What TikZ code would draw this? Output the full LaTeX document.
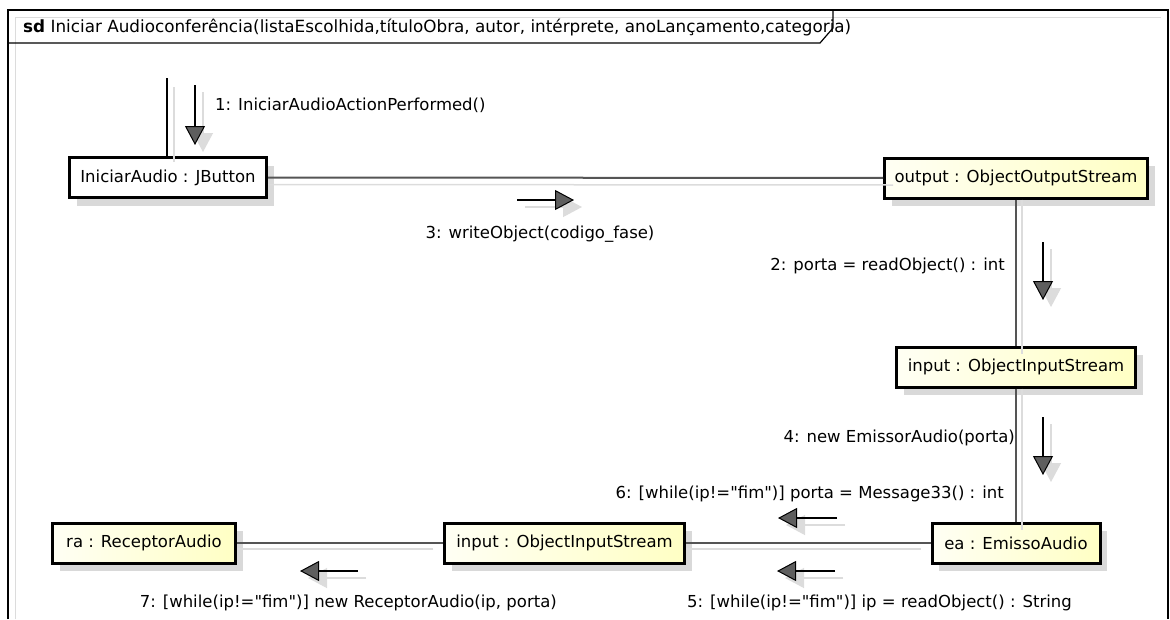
\documentclass[tikz,border=0pt]{standalone}
\usepackage{fontspec}
% plain ASCII quotes must stay straight, so the TeX ligature mapping is off
\setmainfont{DejaVu Sans}[Ligatures=TeXOff]
\usetikzlibrary{arrows.meta,shadows}
\definecolor{linkgray}{HTML}{555555}
\definecolor{shadowgray}{HTML}{DCDCDC}
\definecolor{paleyellow}{HTML}{FFFFC4}
\definecolor{creamwhite}{HTML}{FFFFF4}
\definecolor{headgray}{HTML}{5E5E5E}
\begin{document}
\begin{tikzpicture}[x=1pt,y=-1pt,
  every node/.style={font=\fontsize{16.5}{19}\selectfont},
  objbox/.style={draw=black, line width=3pt, minimum height=40pt, inner sep=0pt,
    drop shadow={shadow xshift=7pt,shadow yshift=-8pt,fill=black!15,opacity=1}},
  yellowobj/.style={objbox, left color=creamwhite, right color=paleyellow},
  whiteobj/.style={objbox, fill=white},
  link/.style={draw=linkgray, line width=2pt},
  linkshadow/.style={draw=shadowgray, line width=1.5pt},
  msg/.style={draw=black, line width=1.2pt,
    -{Triangle[length=19pt,width=20pt,line width=1pt,fill=headgray]}},
  msgshadow/.style={draw=shadowgray, line width=1.2pt,
    -{Triangle[length=19pt,width=20pt,fill=shadowgray]}},
  lbl/.style={inner sep=0pt}
]
\useasboundingbox (0,0) rectangle (1170,619);

% diagram frame with its name tab
\draw[shadowgray, line width=1pt] (15,619) -- (15,17) -- (1161,17);
\draw[black, line width=1.2pt] (8,619) -- (8,10) -- (1168,10) -- (1168,619);
\draw[black, line width=1.2pt] (8,43) -- (820,43) -- (833,28) -- (833,10);
\node[lbl, anchor=west, font=\fontsize{16.8}{19}\selectfont] (title) at (23,28)
  {\textbf{sd} Iniciar Audioconferência(listaEscolhida,títuloObra, autor, intérprete, anoLançamento,categoria)};

% lifeline objects
\node[whiteobj,  minimum width=197pt] (jb)   at (168,177.5) {IniciarAudio : JButton};
\node[yellowobj, minimum width=263pt] (oos)  at (1016,178)  {output : ObjectOutputStream};
\node[yellowobj, minimum width=239pt] (ois)  at (1016,367)  {input : ObjectInputStream};
\node[yellowobj, minimum width=168pt] (ea)   at (1016,543)  {ea : EmissoAudio};
\node[yellowobj, minimum width=240pt] (ois2) at (564.5,543) {input : ObjectInputStream};
\node[yellowobj, minimum width=183pt] (ra)   at (144,543)   {ra : ReceptorAudio};

% links between objects, each with its light shadow line
\draw[linkshadow] ([yshift=-7pt]jb.east) -- ([xshift=10pt,yshift=-7pt]oos.west);
\draw[linkshadow] ([xshift=6pt]oos.south) -- ([xshift=6pt,yshift=-8pt]ois.north);
\draw[linkshadow] ([xshift=6pt]ois.south) -- ([xshift=6pt,yshift=-8pt]ea.north);
\draw[linkshadow] ([xshift=-10pt,yshift=-6pt]ea.west) -- ([yshift=-6pt]ois2.east);
\draw[linkshadow] ([xshift=-10pt,yshift=-6pt]ois2.west) -- ([yshift=-6pt]ra.east);
\draw[link] (jb) -- (oos);
\draw[link] (oos) -- (ois);
\draw[link] (ois) -- (ea);
\draw[link] (ea) -- (ois2);
\draw[link] (ois2) -- (ra);

% actor link entering the button
\coordinate (actor) at (167,78);
\coordinate (actorsh) at (174,87);
\draw[shadowgray, line width=1.5pt] (actorsh) -- (actorsh |- 0,162);
\draw[black, line width=1.3pt] (actor) -- (actor |- jb.north);

% message arrows
\coordinate (m1a) at (195,85);   \coordinate (m1b) at (195,145);
\coordinate (m3a) at (517,200);  \coordinate (m3b) at (574,200);
\coordinate (m2a) at (1043,242); \coordinate (m2b) at (1043,300);
\coordinate (m4a) at (1043,417); \coordinate (m4b) at (1043,475);
\coordinate (m6a) at (837,518);  \coordinate (m6b) at (778,518);
\coordinate (m5a) at (835,571);  \coordinate (m5b) at (777,571);
\coordinate (m7a) at (358,571);  \coordinate (m7b) at (300,571);

\foreach \m in {m1,m3,m2,m4,m6,m5,m7}{
  \draw[msgshadow] ([shift={(8,7)}]\m a) -- ([shift={(8,7)}]\m b);
}
\foreach \m in {m1,m3,m2,m4,m6,m5,m7}{
  \draw[msg] (\m a) -- (\m b);
}

% message labels
\node[lbl, anchor=west] (l1) at (215,105) {1: IniciarAudioActionPerformed()};
\node[lbl] (l3) at (540,234) {3: writeObject(codigo\_fase)};
\node[lbl, anchor=east] (l2) at (1005,266) {2: porta = readObject() : int};
\node[lbl, anchor=east] (l4) at (1015,438) {4: new EmissorAudio(porta)};
\node[lbl, anchor=east] (l6) at (1004,494)
  {6: [while(ip!="fim")] porta = Message33() : int};
\node[lbl, anchor=west] (l5) at (687,603)
  {5: [while(ip!="fim")] ip = readObject() : String};
\node[lbl, anchor=east] (l7) at (557,603)
  {7: [while(ip!="fim")] new ReceptorAudio(ip, porta)};
\end{tikzpicture}
\end{document}
